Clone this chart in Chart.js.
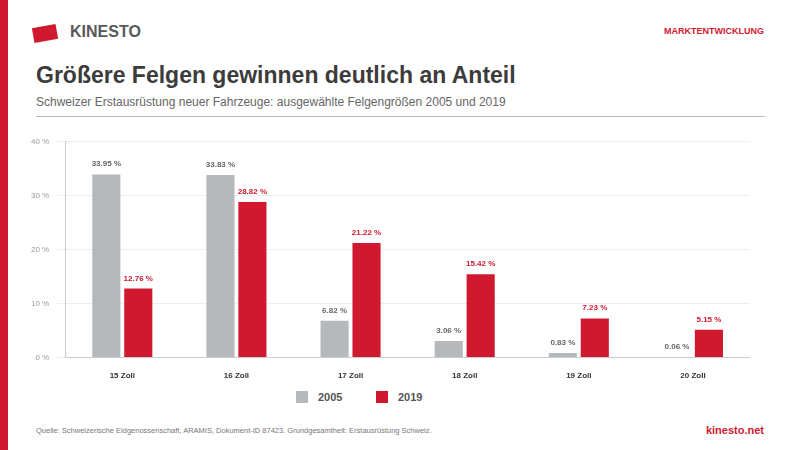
<!DOCTYPE html>
<html>
<head>
<meta charset="utf-8">
<script src="https://cdn.jsdelivr.net/npm/chart.js@4"></script>
<style>
  body { margin: 0; width: 800px; height: 450px; position: relative; font-family: Arial, "Liberation Sans", sans-serif; background: #fff; overflow: hidden; }
  .stripe { position: absolute; left: 0; top: 0; width: 8px; height: 450px; background: #d0192e; }
  .logo { position: absolute; left: 33px; top: 26px; width: 24px; height: 15px; background: #d0192e; transform: rotate(-10deg); }
  .brand { position: absolute; left: 70px; top: 23px; font-size: 16px; font-weight: bold; color: #58595b; }
  .tag { position: absolute; right: 36px; top: 26px; font-size: 9px; font-weight: bold; color: #d0192e; }
  h1 { position: absolute; left: 36px; top: 62px; margin: 0; font-size: 23px; color: #3c3c3c; }
  .sub { position: absolute; left: 36px; top: 95px; font-size: 12px; color: #666; }
  .rule { position: absolute; left: 36px; top: 116px; width: 729px; height: 1px; background: #bbb; }
  .chart { position: absolute; left: 23px; top: 129px; width: 727px; height: 258px; }
  .legend { position: absolute; top: 391px; font-size: 11px; font-weight: bold; color: #555; }
  .legend span { display: inline-block; width: 12px; height: 12px; vertical-align: -2px; margin-right: 10px; }
  .src { position: absolute; left: 36px; top: 426px; font-size: 7.5px; color: #777; }
  .web { position: absolute; right: 36px; top: 424px; font-size: 11px; font-weight: bold; color: #d0192e; }
</style>
</head>
<body>
<div class="stripe"></div>
<div class="logo"></div>
<div class="brand">KINESTO</div>
<div class="tag">MARKTENTWICKLUNG</div>
<h1>Größere Felgen gewinnen deutlich an Anteil</h1>
<div class="sub">Schweizer Erstausrüstung neuer Fahrzeuge: ausgewählte Felgengrößen 2005 und 2019</div>
<div class="rule"></div>
<div class="chart"><canvas id="c"></canvas></div>
<div class="legend" style="left:296px"><span style="background:#b5b9bc"></span>2005</div>
<div class="legend" style="left:376px"><span style="background:#d0192e"></span>2019</div>
<div class="src">Quelle: Schweizerische Eidgenossenschaft, ARAMIS, Dokument-ID 87423. Grundgesamtheit: Erstausrüstung Schweiz.</div>
<div class="web">kinesto.net</div>
<script>
const categories = ['15 Zoll', '16 Zoll', '17 Zoll', '18 Zoll', '19 Zoll', '20 Zoll'];
const values2005 = [33.95, 33.83, 6.82, 3.06, 0.83, 0.06];
const values2019 = [12.76, 28.82, 21.22, 15.42, 7.23, 5.15];

const labelPlugin = {
  id: 'labels',
  afterDatasetsDraw(chart) {
    const ctx = chart.ctx;
    ctx.save();
    ctx.font = 'bold 8px Arial';
    ctx.textAlign = 'center';
    chart.data.datasets.forEach((ds, i) => {
      ctx.fillStyle = i === 0 ? '#666' : '#d0192e';
      chart.getDatasetMeta(i).data.forEach((bar, j) => {
        ctx.fillText(ds.data[j].toFixed(2) + ' %', bar.x, bar.y - 8);
      });
    });
    ctx.restore();
  }
};

new Chart(document.getElementById('c'), {
  type: 'bar',
  data: {
    labels: categories,
    datasets: [
      { label: '2005', data: values2005, backgroundColor: '#b5b9bc' },
      { label: '2019', data: values2019, backgroundColor: '#d0192e' }
    ]
  },
  options: {
    responsive: true,
    maintainAspectRatio: false,
    animation: false,
    layout: { padding: { top: 4, right: 0 } },
    plugins: { legend: { display: false }, tooltip: { enabled: false } },
    datasets: { bar: { categoryPercentage: 0.56, barPercentage: 0.88 } },
    scales: {
      x: {
        grid: { display: false },
        border: { color: '#ccc' },
        ticks: { color: '#333', font: { size: 8, weight: 'bold', family: 'Arial' }, padding: 6 }
      },
      y: {
        min: 0, max: 40,
        grid: { color: '#eee' },
        border: { color: '#ccc' },
        ticks: { stepSize: 10, color: '#999', font: { size: 8, family: 'Arial' }, padding: 8, callback: v => v + ' %' }
      }
    }
  },
  plugins: [labelPlugin]
});
</script>
</body>
</html>
